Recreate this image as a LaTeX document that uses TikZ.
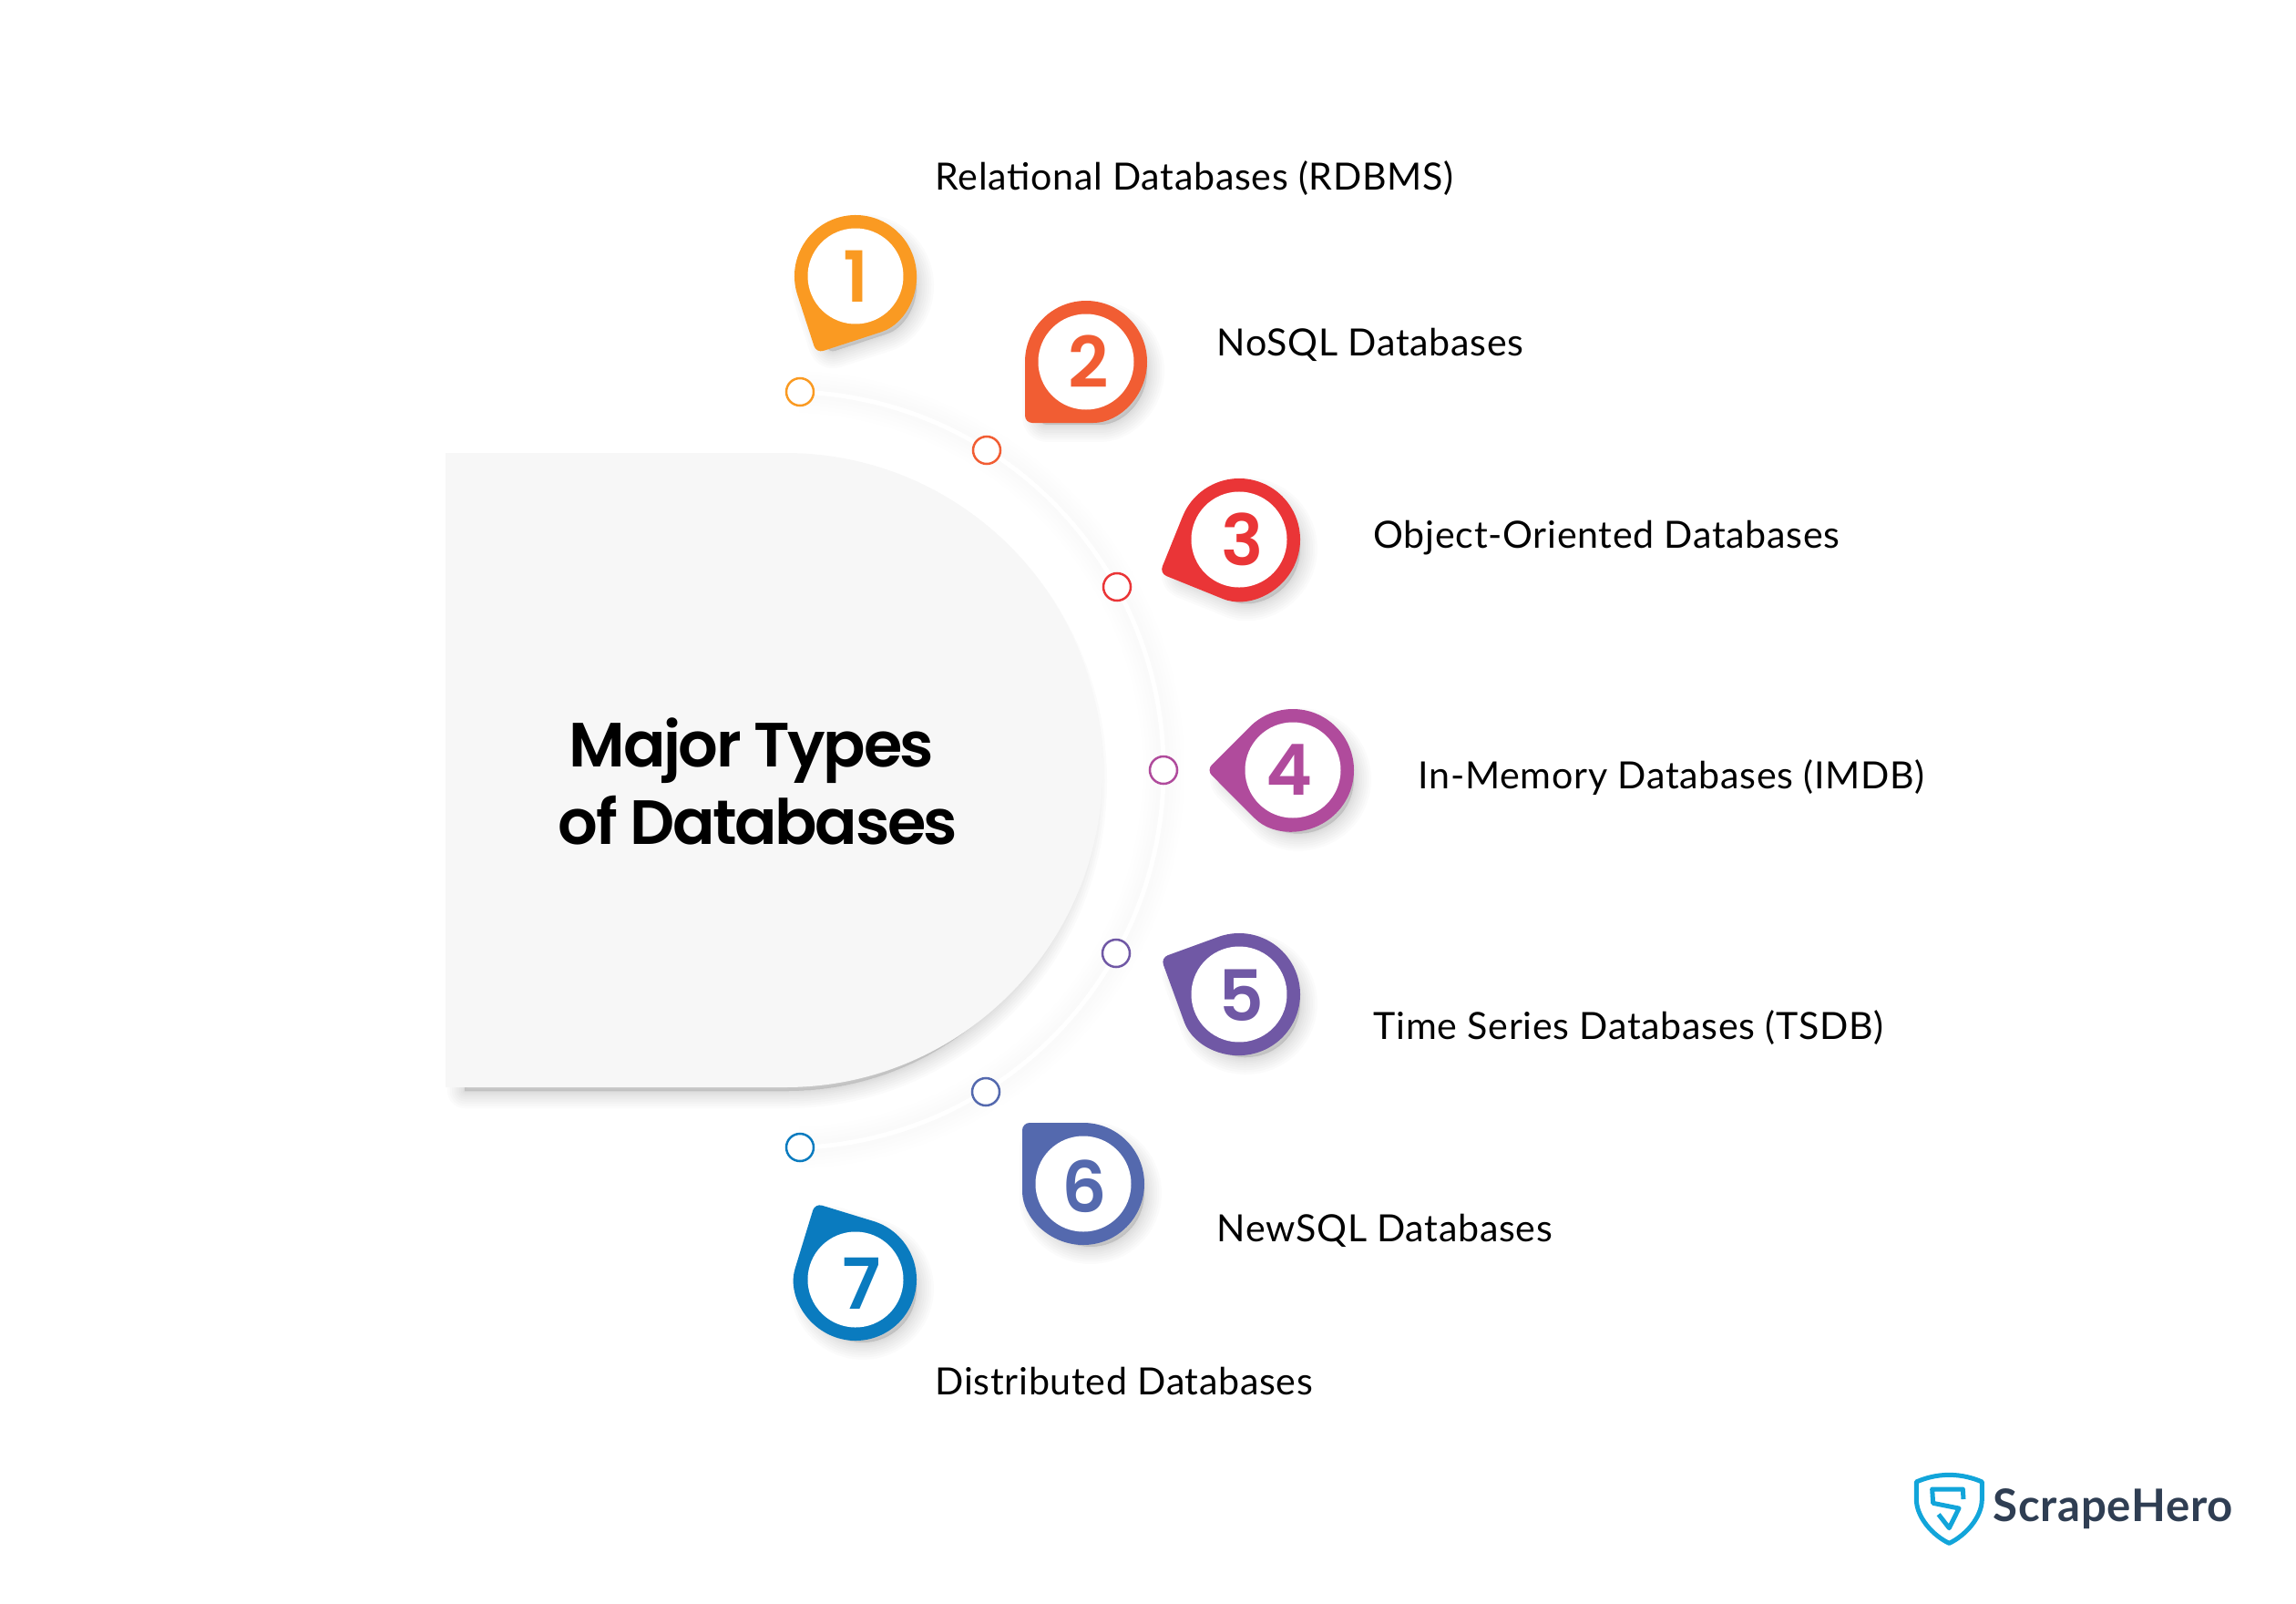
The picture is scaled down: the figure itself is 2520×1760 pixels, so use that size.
\documentclass[tikz,border=0pt]{standalone}
\usepackage{fontspec}
\setmainfont{Lato}[LetterSpace=1.7]
\newfontfamily\headfont{Poppins}[UprightFont=* SemiBold,LetterSpace=-3.5]
\newfontfamily\numfont{Poppins}[UprightFont=* SemiBold]
\newfontfamily\herofont{Lato}[LetterSpace=1.4]

\definecolor{one}{HTML}{FA9A22}
\definecolor{two}{HTML}{F15D33}
\definecolor{three}{HTML}{EA3537}
\definecolor{four}{HTML}{B04B9C}
\definecolor{five}{HTML}{7058A5}
\definecolor{six}{HTML}{5469AE}
\definecolor{seven}{HTML}{0A7BBF}
\definecolor{panelgray}{HTML}{F7F7F7}
\definecolor{herocyan}{HTML}{12A5DA}
\definecolor{heroink}{HTML}{2F3E53}

\newcommand{\pinpath}{(135:67) [rounded corners=.08cm] -- (-94.75,0) -- (225:67) [sharp corners] arc (225:495:67) -- cycle}
\newcommand{\softshadow}[1]{\foreach \w in {2,5,9,13,18,23,28,33,38} \path[draw=black,fill=black,opacity=.016,line width=\w*.01cm,line join=round] #1;}
\newcommand{\pinmark}[4]{
  \begin{scope}[shift={(#1+8,#2+10)},rotate=#3,y=.01cm,scale=.88]
    \softshadow{\pinpath}
  \end{scope}
  \begin{scope}[shift={(#1,#2)},rotate=#3,y=.01cm]
    \fill[#4] \pinpath;
    \fill[white] (0,0) circle (52.5);
  \end{scope}
}

\begin{document}
\begin{tikzpicture}[x=.01cm,y=-.01cm,
    dblabel/.style={anchor=base west,inner sep=0pt,font=\fontsize{11.7}{14}\selectfont},
    pinnum/.style={inner sep=0pt,font=\numfont\fontsize{22}{24}\selectfont},
    dotmark/.style={circle,minimum size=.3cm,inner sep=0pt,line width=.025cm,fill=white}]
  \useasboundingbox (0,0) rectangle (2520,1760);

  % faint ring behind the dots
  \coordinate (ringstart) at (878,430);
  \begin{scope}[shift={(3,9)}]
    \foreach \w in {6,14,...,50} \draw[black,opacity=.005,line width=\w*.01cm] (ringstart) arc (-87.8:87.8:415);
  \end{scope}
  \draw[white,line width=.05cm] (ringstart) arc (-87.8:87.8:415);

  % centre panel
  \begin{scope}[shift={(2,12)}]
    \softshadow{(508,505) -- (862,505) arc[start angle=-90,end angle=90,x radius=332,y radius=340] -- (508,1185) -- cycle}
  \end{scope}
  \fill[panelgray] (489,497) -- (862,497) arc (-90:90:348) -- (489,1193) -- cycle;
  \node[align=center,inner sep=0pt,font=\headfont\fontsize{19.5}{24.2}\selectfont] (title) at (832,857) {Major Types\hspace*{.14cm}\\of Databases};

  \node[dotmark,draw=one]   (dot1) at (878,430)  {};
  \node[dotmark,draw=two]   (dot2) at (1083,494) {};
  \node[dotmark,draw=three] (dot3) at (1226,644) {};
  \node[dotmark,draw=four]  (dot4) at (1277,845) {};
  \node[dotmark,draw=five]  (dot5) at (1225,1046) {};
  \node[dotmark,draw=six]   (dot6) at (1082,1198) {};
  \node[dotmark,draw=seven] (dot7) at (878,1259) {};

  \pinmark{939}{303}{63}{one}
  \pinmark{1192}{397}{45}{two}
  \pinmark{1360}{592}{23}{three}
  \pinmark{1419}{845}{0}{four}
  \pinmark{1360}{1091}{-25}{five}
  \pinmark{1189}{1299}{-45}{six}
  \pinmark{939}{1404}{-62}{seven}

  \node[pinnum,text=one]   (num1) at (939,303)  {1};
  \node[pinnum,text=two]   (num2) at (1195,397) {2};
  \node[pinnum,text=three] (num3) at (1364,592) {3};
  \node[pinnum,text=four]  (num4) at (1415,845) {4};
  \node[pinnum,text=five]  (num5) at (1362,1092) {5};
  \node[pinnum,text=six]   (num6) at (1190,1302) {6};
  \node[pinnum,text=seven] (num7) at (946,1408) {7};

  \node[dblabel] (rel)  at (1026,208)  {Relational Databases (RDBMS)};
  \node[dblabel] (nosql) at (1335,390) {NoSQL Databases};
  \node[dblabel] (obj)  at (1507,601)  {Object-Oriented Databases};
  \node[dblabel] (mem)  at (1556,865)  {In-Memory Databases (IMDB)};
  \node[dblabel] (time) at (1507,1140) {Time Series Databases (TSDB)};
  \node[dblabel] (newsql) at (1335,1362) {NewSQL Databases};
  \node[dblabel] (dist) at (1026,1530) {Distributed Databases};

  % logo
  \begin{scope}[shift={(2095,1610)},x=.01cm/3,y=-.01cm/3]
    \draw[herocyan,line width=.05cm,line join=round] (133,25) .. controls (90,25) and (52,36) .. (25,48) -- (25,105) .. controls (25,165) and (80,225) .. (133,250) .. controls (186,225) and (241,165) .. (241,105) -- (241,48) .. controls (214,36) and (176,25) .. (133,25) -- cycle;
    \draw[herocyan,line width=.05cm,line join=round] (180,105) -- (178,72) -- (77,72) -- (80,118) -- (165,135) -- (133,200) -- (98,155);
  \end{scope}
  \node[anchor=base west,inner sep=0pt,text=heroink,font=\herofont\bfseries\fontsize{14}{16}\selectfont] (hero) at (2187,1669) {ScrapeHero};
\end{tikzpicture}
\end{document}
